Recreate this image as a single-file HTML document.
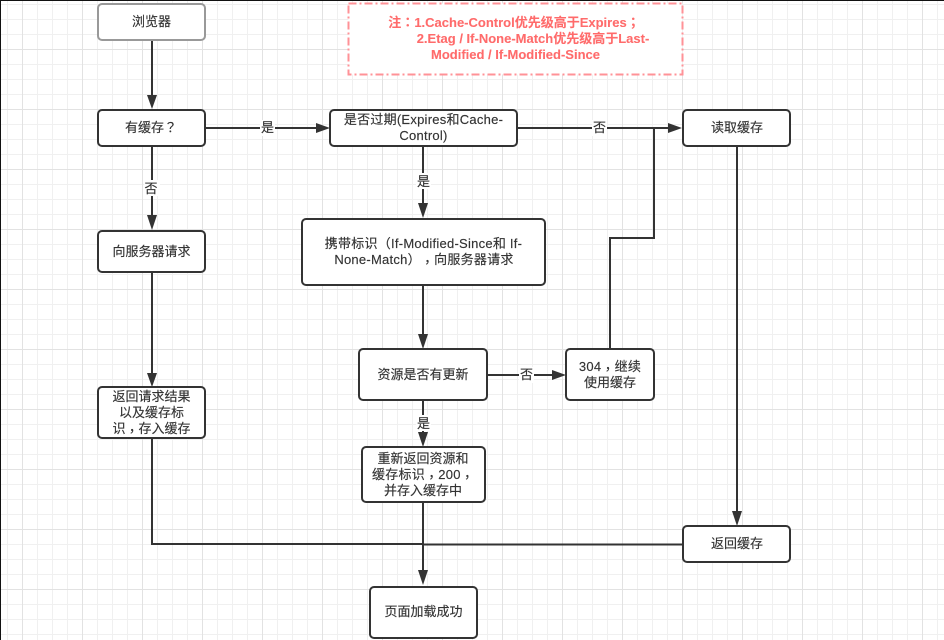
<!DOCTYPE html>
<html><head><meta charset="utf-8"><style>
html,body{margin:0;padding:0;background:#fff}
svg{display:block}
text{font-family:"Liberation Sans","Noto Sans CJK SC",sans-serif;font-size:13px;fill:#333;stroke:#333;stroke-width:.15;text-anchor:middle;text-spacing-trim:space-all;font-kerning:none}
.p{font-family:"Noto Sans CJK TC",sans-serif}
.n{fill:#fff;stroke:#333;stroke-width:2}
.l{fill:none;stroke:#333;stroke-width:2}
.a{fill:#333;stroke:none}
.b{fill:#fff;stroke:none}
text.r{fill:#ff6b6b;stroke:#ff6b6b;stroke-width:.1;font-weight:bold}
.s{letter-spacing:.25px}
</style></head><body>
<svg width="944" height="640" viewBox="0 0 944 640" xmlns="http://www.w3.org/2000/svg">
<defs>
<pattern id="g" width="60" height="60" patternUnits="userSpaceOnUse" x="22" y="49">
<path d="M15.5 0V60M30.5 0V60M45.5 0V60M0 15.5H60M0 30.5H60M0 45.5H60" stroke="#f0f0f0" fill="none"/>
<path d="M.5 0V60M0 .5H60" stroke="#e2e2e2" fill="none"/>
</pattern>
</defs>
<rect width="944" height="640" fill="#fff"/>
<rect width="944" height="640" fill="url(#g)"/>
<path d="M0 .5H944M.5 0V640" stroke="#111" fill="none"/>

<!-- connectors -->
<path class="l" d="M152 40V96M152 146V217M152 272V374M205 128H316M517 128H669M423 146V204M423 285V335M487 375H552M423 400V433M423 502V572M737 146V512M610 349V238H654V128M152 438V544H423M423 544.5H683"/>
<path class="a" d="M147 95H157L152 109ZM147 215H157L152 230ZM147 373H157L152 387ZM316 123V133L330 128ZM668 123V133L682 128ZM418 203H428L423 218ZM418 334H428L423 349ZM552 370V380L566 375ZM418 432H428L423 447ZM418 570H428L423 585ZM732 511H742L737 526Z"/>

<!-- nodes -->
<rect x="98" y="4" width="107" height="36" rx="4" fill="#fff" stroke="#999" stroke-width="2"/>
<rect class="n" x="98" y="110" width="107" height="36" rx="4"/>
<rect class="n" x="330" y="110" width="187" height="36" rx="4"/>
<rect class="n" x="683" y="110" width="107" height="36" rx="4"/>
<rect class="n" x="98" y="231" width="107" height="41" rx="4"/>
<rect class="n" x="302" y="219" width="243" height="66" rx="4"/>
<rect class="n" x="359" y="349" width="128" height="51" rx="4"/>
<rect class="n" x="566" y="349" width="88" height="51" rx="4"/>
<rect class="n" x="98" y="387" width="107" height="51" rx="4"/>
<rect class="n" x="362" y="447" width="123" height="55" rx="4"/>
<rect class="n" x="370" y="587" width="107" height="51" rx="4"/>
<rect class="n" x="683" y="526" width="107" height="36" rx="4"/>
<rect x="348.500" y="3.500" width="334" height="71" fill="#fff" stroke="#ff9297" stroke-width="2" stroke-dasharray="8 3 2 3"/>

<!-- edge label backgrounds -->
<rect class="b" x="260" y="120" width="15" height="16"/>
<rect class="b" x="592" y="120" width="15" height="16"/>
<rect class="b" x="144" y="180" width="16" height="16"/>
<rect class="b" x="416" y="173" width="15" height="16"/>
<rect class="b" x="519" y="367" width="15" height="16"/>
<rect class="b" x="416" y="415" width="15" height="16"/>

<!-- labels -->
<text x="151.500" y="26">浏览器</text>
<text x="151" y="132">有缓存<tspan class="p">？</tspan></text>
<text x="267.500" y="132">是</text>
<text class="s" x="423.500" y="124">是否过期(Expires和Cache-</text>
<text class="s" x="423.500" y="140">Control)</text>
<text x="599.500" y="132">否</text>
<text x="737" y="132">读取缓存</text>
<text x="151" y="193">否</text>
<text x="423.500" y="186">是</text>
<text x="151.500" y="256">向服务器请求</text>
<text class="s" x="423.500" y="248">携带标识<tspan class="p">（</tspan>If-Modified-Since和 If-</text>
<text class="s" x="424" y="264">None-Match<tspan class="p">）</tspan><tspan class="p" dy="3">，</tspan><tspan dy="-3">向服务器请求</tspan></text>
<text x="423" y="379">资源是否有更新</text>
<text x="526.500" y="379">否</text>
<text class="s" x="610" y="371">304<tspan class="p" dy="3">，</tspan><tspan dy="-3">继续</tspan></text>
<text x="610" y="387">使用缓存</text>
<text x="151.500" y="401">返回请求结果</text>
<text x="151.500" y="417">以及缓存标</text>
<text x="151.500" y="433">识<tspan class="p" dy="3">，</tspan><tspan dy="-3">存入缓存</tspan></text>
<text x="423.500" y="428">是</text>
<text x="423" y="463">重新返回资源和</text>
<text class="s" x="423" y="479">缓存标识<tspan class="p" dy="3">，</tspan><tspan dy="-3">200</tspan><tspan class="p" dy="3">，</tspan></text>
<text x="423" y="495">并存入缓存中</text>
<text x="423.500" y="616">页面加载成功</text>
<text x="737" y="548">返回缓存</text>
<text class="r" x="514" y="27">注<tspan class="p">：</tspan>1.Cache-Control优先级高于Expires<tspan class="p">；</tspan></text>
<text class="r" x="533" y="43">2.Etag / If-None-Match优先级高于Last-</text>
<text class="r" x="515.500" y="59">Modified / If-Modified-Since</text>
</svg>
</body></html>
